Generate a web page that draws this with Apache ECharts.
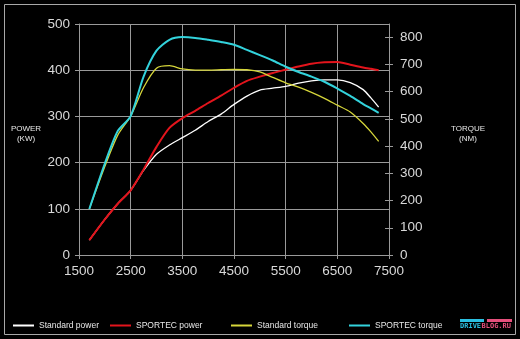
<!DOCTYPE html>
<html>
<head>
<meta charset="utf-8">
<script src="https://cdn.jsdelivr.net/npm/echarts@6/dist/echarts.min.js"></script>
<style>
html,body{margin:0;padding:0;background:#000;}
#c{width:520px;height:339px;}
</style>
</head>
<body>
<div id="c"></div>
<script>
var rpm = [1700, 2000, 2250, 2500, 2750, 3000, 3250, 3500, 3750, 4000, 4250, 4500, 4750, 5000, 5250, 5500, 5750, 6000, 6250, 6500, 6750, 7000, 7150, 7300];
var standardPower = [32, 77, 111, 140, 183, 218, 238, 254, 270, 289, 305, 326, 344, 357, 361, 365, 372, 377, 379, 379, 373, 358, 340, 320];
var sportecPower = [32, 77, 111, 140, 185, 234, 275, 296, 312, 329, 345, 362, 377, 386, 394, 401, 408, 414, 417, 418, 412, 406, 403, 400];
var standardTorque = [169, 325, 440, 510, 615, 686, 695, 683, 679, 679, 680, 681, 680, 672, 652, 632, 616, 597, 575, 550, 525, 483, 452, 417];
var sportecTorque = [169, 336, 455, 510, 655, 750, 790, 800, 797, 790, 782, 772, 753, 734, 714, 691, 672, 655, 636, 611, 584, 554, 538, 522];
var xTicks = [1500, 2500, 3500, 4500, 5500, 6500, 7500];
var powerTicks = [0, 100, 200, 300, 400, 500];
var torqueTicks = [0, 100, 200, 300, 400, 500, 600, 700, 800];
var seriesNames = ['Standard power', 'SPORTEC power', 'Standard torque', 'SPORTEC torque'];

function pairs(xs, ys) { return xs.map(function (x, i) { return [x, ys[i]]; }); }

var chart = echarts.init(document.getElementById('c'), null, {renderer: 'canvas'});
var labelColor = '#d9d9d9';
var gridColor = '#9a9a9a';
var font = 'Liberation Sans, Arial, sans-serif';
function plain(v) { return String(v); }

var option = {
  backgroundColor: '#000',
  animation: false,
  grid: {left: 79, right: 131, top: 24, bottom: 84},
  xAxis: {
    type: 'value', min: xTicks[0], max: xTicks[xTicks.length - 1], interval: 1000,
    axisLine: {show: true, lineStyle: {color: gridColor, width: 1}},
    axisTick: {show: true, length: 4, lineStyle: {color: gridColor}},
    splitLine: {show: true, lineStyle: {color: gridColor, width: 1}},
    axisLabel: {color: labelColor, fontSize: 13.5, fontFamily: font, margin: 9, formatter: plain}
  },
  yAxis: [
    {
      type: 'value', min: powerTicks[0], max: powerTicks[powerTicks.length - 1], interval: 100, position: 'left',
      axisLine: {show: true, lineStyle: {color: gridColor}},
      axisTick: {show: true, length: 4, lineStyle: {color: gridColor}},
      splitLine: {show: true, lineStyle: {color: gridColor, width: 1}},
      axisLabel: {color: labelColor, fontSize: 13.5, fontFamily: font, margin: 9, formatter: plain}
    },
    {
      type: 'value', min: torqueTicks[0], max: 848, interval: 100, position: 'right',
      axisLine: {show: true, lineStyle: {color: gridColor}},
      axisTick: {show: true, length: 4, lineStyle: {color: gridColor}},
      splitLine: {show: false},
      axisLabel: {color: labelColor, fontSize: 13.5, fontFamily: font, margin: 11, showMaxLabel: false,
        formatter: function (v) { return v % 100 === 0 ? String(v) : ''; }}
    },
    {
      type: 'value', min: torqueTicks[0], max: 848, interval: 100, position: 'right',
      axisLine: {show: false},
      axisTick: {show: true, inside: true, length: 4, lineStyle: {color: gridColor}},
      splitLine: {show: false},
      axisLabel: {show: false}
    }
  ],
  legend: [
    {left: 8, name: 0},
    {left: 105, name: 1},
    {left: 226, name: 2},
    {left: 344, name: 3}
  ].map(function (l) {
    return {
      data: [seriesNames[l.name]], left: l.left, top: 316, icon: 'rect', itemWidth: 21, itemHeight: 2,
      itemGap: 0, selectedMode: false,
      textStyle: {color: '#e8e8e8', fontSize: 8.5, fontFamily: font, padding: [0, 0, 0, 0]}
    };
  }),
  graphic: [
    {type: 'rect', shape: {x: 4.5, y: 4.5, width: 511, height: 330}, style: {fill: null, stroke: '#a8a8a8', lineWidth: 1}, silent: true},
    {type: 'text', x: 26, y: 124, style: {text: 'POWER\n(KW)', fill: '#e8e8e8', font: '8px Liberation Sans, Arial, sans-serif', textAlign: 'center', lineHeight: 10}},
    {type: 'text', x: 468, y: 124, style: {text: 'TORQUE\n(NM)', fill: '#e8e8e8', font: '8px Liberation Sans, Arial, sans-serif', textAlign: 'center', lineHeight: 10}},
    {type: 'rect', shape: {x: 460, y: 319, width: 24, height: 3}, style: {fill: '#2bbfe0'}},
    {type: 'rect', shape: {x: 487, y: 319, width: 25, height: 3}, style: {fill: '#e6507c'}},
    {type: 'text', x: 460, y: 323, style: {text: 'DRIVE', fill: '#2bbfe0', font: 'bold 7px DejaVu Sans Mono, monospace'}},
    {type: 'text', x: 481.5, y: 323, style: {text: 'BLOG.RU', fill: '#e6507c', font: 'bold 7px DejaVu Sans Mono, monospace'}}
  ],
  series: [
    {name: seriesNames[0], type: 'line', yAxisIndex: 0, data: pairs(rpm, standardPower), showSymbol: false, smooth: 0.25,
      itemStyle: {color: '#ffffff'}, lineStyle: {color: '#ffffff', width: 1.3}},
    {name: seriesNames[1], type: 'line', yAxisIndex: 0, data: pairs(rpm, sportecPower), showSymbol: false, smooth: 0.25,
      itemStyle: {color: '#e3141c'}, lineStyle: {color: '#e3141c', width: 2}},
    {name: seriesNames[2], type: 'line', yAxisIndex: 1, data: pairs(rpm, standardTorque), showSymbol: false, smooth: 0.25,
      itemStyle: {color: '#d6d63a'}, lineStyle: {color: '#d6d63a', width: 1.3}},
    {name: seriesNames[3], type: 'line', yAxisIndex: 1, data: pairs(rpm, sportecTorque), showSymbol: false, smooth: 0.25,
      itemStyle: {color: '#33d3dc'}, lineStyle: {color: '#33d3dc', width: 2}}
  ]
};
chart.setOption(option);
</script>
</body>
</html>
